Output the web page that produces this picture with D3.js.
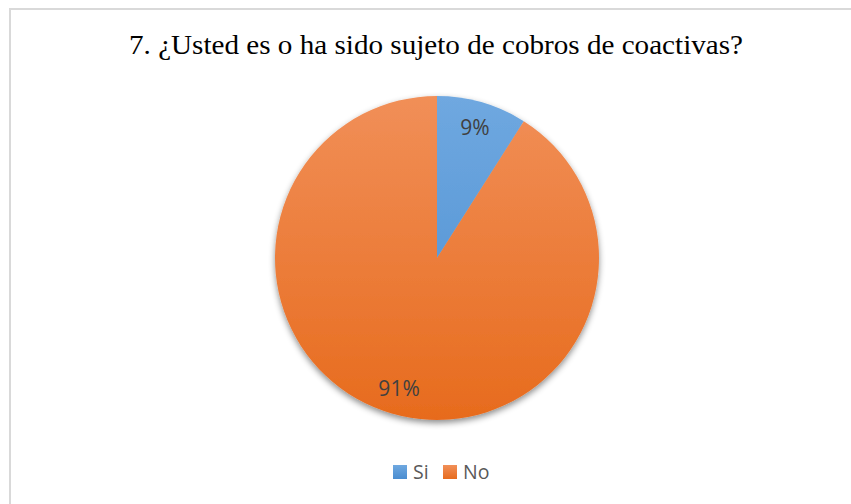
<!DOCTYPE html>
<html>
<head>
<meta charset="utf-8">
<script src="https://cdn.jsdelivr.net/npm/d3@7"></script>
<style>
  html, body { margin: 0; padding: 0; background: #fff; }
</style>
</head>
<body>
<div id="content"></div>
<script>
// data
var categories = ['Si', 'No'];
var values = [9, 91];
var labels = ['9%', '91%'];
var colorsTop = ['#6fa8e0', '#f18f58'];
var colorsBottom = ['#4a8dd0', '#e76b1d'];

var width = 851,
    height = 504;

var svg = d3.select('#content')
  .append('svg')
  .attr('width', width)
  .attr('height', height);

var defs = svg.append('defs');

// soft shadow under the pie
var filter = defs.append('filter')
  .attr('id', 'shadow')
  .attr('x', '-10%').attr('y', '-10%')
  .attr('width', '120%').attr('height', '125%');
filter.append('feDropShadow')
  .attr('dx', 0).attr('dy', 3)
  .attr('stdDeviation', 3)
  .attr('flood-color', '#000')
  .attr('flood-opacity', 0.45);

// chart frame
svg.append('rect')
  .attr('x', 10).attr('y', 9)
  .attr('width', width + 20).attr('height', height + 20)
  .style('fill', 'none')
  .style('stroke', '#d9d9d9')
  .style('stroke-width', 2);

// title (the reference is a bit stretched sideways)
svg.append('text')
  .attr('x', 436)
  .attr('y', 54)
  .attr('text-anchor', 'middle')
  .attr('textLength', 614)
  .attr('lengthAdjust', 'spacingAndGlyphs')
  .style('font-family', '"Liberation Serif", "Times New Roman", serif')
  .style('font-size', '26.7px')
  .style('fill', '#000')
  .text('7. ¿Usted es o ha sido sujeto de cobros de coactivas?');

var cx = 437, cy = 258, r = 162;

// vertical gradients, one per slice (local coords of the pie group)
categories.forEach(function(c, i) {
  var g = defs.append('linearGradient')
    .attr('id', 'grad' + i)
    .attr('gradientUnits', 'userSpaceOnUse')
    .attr('x1', 0).attr('y1', -r)
    .attr('x2', 0).attr('y2', r);
  g.append('stop').attr('offset', '0%').attr('stop-color', colorsTop[i]);
  g.append('stop').attr('offset', '100%').attr('stop-color', colorsBottom[i]);

  var lg = defs.append('linearGradient')
    .attr('id', 'lgrad' + i)
    .attr('x1', 0).attr('y1', 0).attr('x2', 0).attr('y2', 1);
  lg.append('stop').attr('offset', '0%').attr('stop-color', colorsTop[i]);
  lg.append('stop').attr('offset', '100%').attr('stop-color', colorsBottom[i]);
});

var pie = d3.pie().sort(null).value(function(d) { return d; });
var arcs = pie(values);

var arc = d3.arc().innerRadius(0).outerRadius(r);
var labelArc = d3.arc().innerRadius(136).outerRadius(136);

var g = svg.append('g')
  .attr('transform', 'translate(' + cx + ',' + cy + ')');

var slices = g.append('g').attr('filter', 'url(#shadow)');
slices.selectAll('path')
  .data(arcs)
  .enter()
  .append('path')
  .attr('d', arc)
  .style('fill', function(d, i) { return 'url(#grad' + i + ')'; });

g.selectAll('text.lbl')
  .data(arcs)
  .enter()
  .append('text')
  .attr('class', 'lbl')
  .attr('transform', function(d) { return 'translate(' + labelArc.centroid(d) + ')'; })
  .attr('text-anchor', 'middle')
  .attr('dy', '0.36em')
  .style('font-family', '"Open Sans", "Liberation Sans", sans-serif')
  .style('font-size', '21px')
  .style('fill', '#404040')
  .text(function(d, i) { return labels[i]; });

// legend
var legendX = [393, 443];
var legend = svg.selectAll('g.legend')
  .data(categories)
  .enter()
  .append('g')
  .attr('class', 'legend')
  .attr('transform', function(d, i) { return 'translate(' + legendX[i] + ',465)'; });

legend.append('rect')
  .attr('width', 14).attr('height', 14)
  .style('fill', function(d, i) { return 'url(#lgrad' + i + ')'; });

legend.append('text')
  .attr('x', 20)
  .attr('y', 14)
  .style('font-family', '"Open Sans", "Liberation Sans", sans-serif')
  .style('font-size', '19.5px')
  .style('fill', '#595959')
  .text(function(d) { return d; });
</script>
</body>
</html>
